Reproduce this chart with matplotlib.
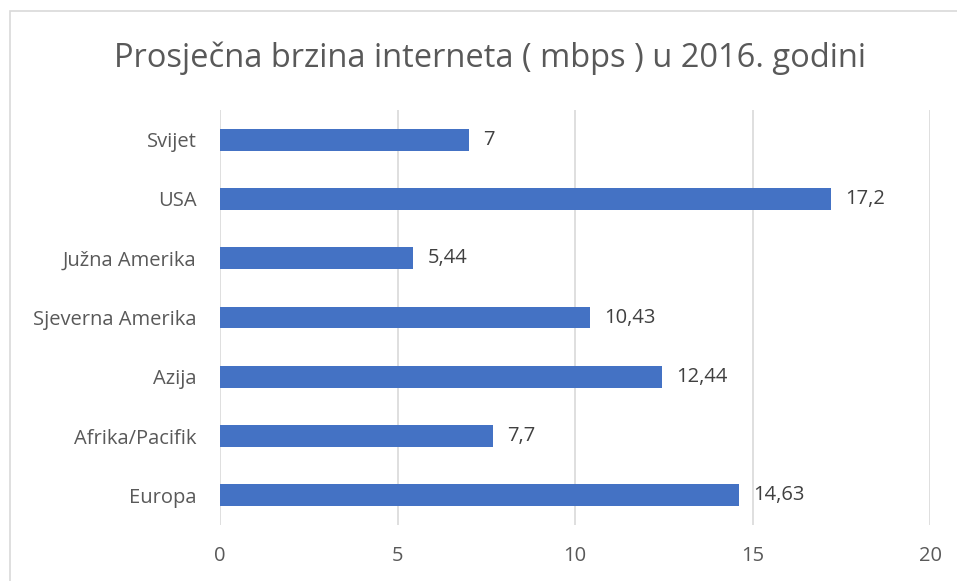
import matplotlib.pyplot as plt
from matplotlib.patches import Rectangle

regije = ['Svijet', 'USA', 'Južna Amerika', 'Sjeverna Amerika', 'Azija', 'Afrika/Pacifik', 'Europa']
brzine = [7, 17.2, 5.44, 10.43, 12.44, 7.7, 14.63]
oznake = ['7', '17,2', '5,44', '10,43', '12,44', '7,7', '14,63']
x_ticks = [0, 5, 10, 15, 20]

plt.rcParams['font.family'] = ['Open Sans', 'DejaVu Sans']

fig = plt.figure(figsize=(9.57, 5.81), dpi=100)
fig.patches.append(Rectangle((10 / 957, -0.1), 1.2, 1 - 11 / 581 + 0.1, transform=fig.transFigure,
                             fill=False, edgecolor='#d9d9d9', linewidth=1.2))
ax = fig.add_axes([220 / 957, 1 - 525 / 581, 710 / 957, 415 / 581])

pos = list(range(len(regije)))
ax.barh(pos, brzine, height=0.37, color='#4472c4', zorder=3)
for p, v, t in zip(pos, brzine, oznake):
    ax.text(v + 0.4, p, t, va='center', ha='left', fontsize=14.5, color='#404040')

ax.set_xlim(0, 20)
ax.set_ylim(len(regije) - 0.5, -0.5)
ax.set_yticks(pos)
ax.set_yticklabels(regije, fontsize=14.5, color='#595959')
ax.set_xticks(x_ticks)
ax.set_xticklabels([str(t) for t in x_ticks], fontsize=14.5, color='#595959')
ax.tick_params(length=0)
ax.tick_params(axis='x', pad=15)
ax.tick_params(axis='y', pad=17)
ax.grid(axis='x', color='#d9d9d9', linewidth=1.2, zorder=0)
for s in ax.spines.values():
    s.set_visible(False)

fig.text(490 / 957, 1 - 58 / 581, 'Prosječna brzina interneta ( mbps ) u 2016. godini',
         ha='center', va='center', fontsize=23.5, color='#595959')

fig.savefig('out.png', dpi=100)
